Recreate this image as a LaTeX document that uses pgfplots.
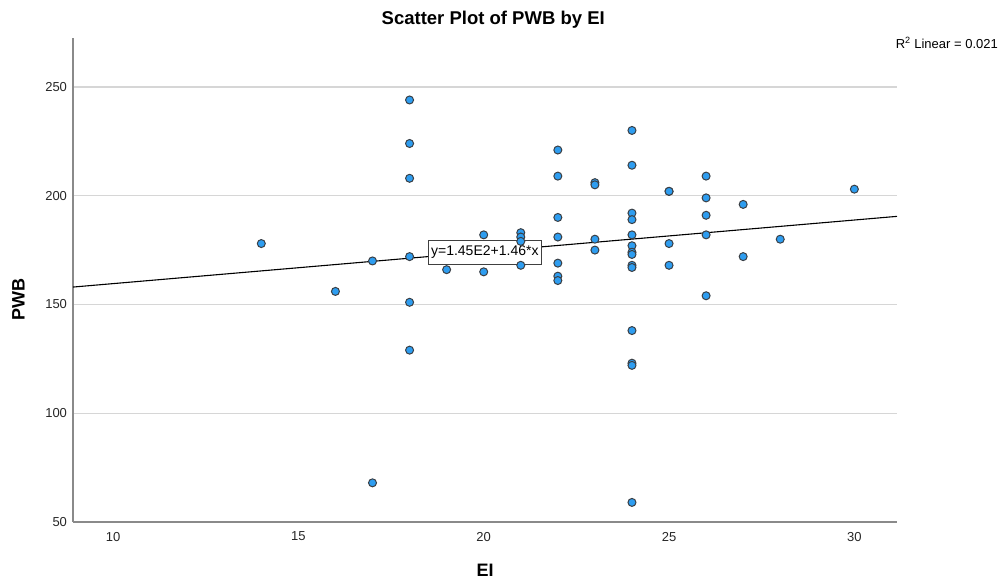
\documentclass[border=0pt]{standalone}
\usepackage{fontspec}
\setmainfont{Liberation Sans}
\usepackage{pgfplots}
\pgfplotsset{compat=1.18}
\definecolor{dotfill}{HTML}{2E9DF0}
\definecolor{dotedge}{HTML}{3A3F45}
\definecolor{gridgray}{HTML}{D6D6D6}
\definecolor{axgray}{HTML}{8A8A8A}

\begin{document}
\begin{tikzpicture}
\begin{axis}[
  scale only axis,
  width=824pt, height=484pt,
  xmin=8.92, xmax=31.15,
  ymin=50, ymax=272.5,
  axis lines*=left,
  axis line style={axgray, line width=1.2pt},
  xtick={10,15,20,25,30},
  ytick={50,100,150,200,250},
  major tick length=0pt,
  ymajorgrids,
  major grid style={gridgray, line width=1.4pt},
  tick label style={font=\fontsize{13}{15}\selectfont, text=black!85},
  /pgf/number format/assume math mode=true,
  xticklabel style={yshift=-6.5pt},
  yticklabel style={xshift=-2.5pt},
  clip=false,
]
% regression line y = 145 + 1.46x
\addplot[black, line width=1.1pt] coordinates {(8.92,158.0) (31.15,190.5)};

\addplot[only marks, mark=*, mark size=4pt,
  mark options={fill=dotfill, draw=dotedge, line width=1pt}] table {
14 178
16 156
17 170
17 68
18 244
18 224
18 208
18 172
18 151
18 129
19 166
20 182
20 165
21 183
21 181
21 179
21 168
22 221
22 209
22 190
22 181
22 169
22 163
22 161
23 206
23 205
23 180
23 175
24 230
24 214
24 192
24 189
24 182
24 177
24 174
24 173
24 168
24 167
24 138
24 123
24 122
24 59
25 202
25 202
25 178
25 168
26 209
26 199
26 191
26 182
26 154
27 196
27 172
28 180
30 203
};

\node[draw=black!75, fill=white, line width=0.8pt, inner xsep=2.5pt, inner ysep=5.5pt,
  font=\fontsize{14}{16}\selectfont] at (axis cs:20.03,173.9) {y=1.45E2+1.46*x};

\node[font=\bfseries\fontsize{18.5}{20}\selectfont] at (rel axis cs:0.510,1.037) {Scatter Plot of PWB by EI};
\node[font=\bfseries\fontsize{18}{20}\selectfont] at (rel axis cs:0.5,-0.099) {EI};
\node[font=\bfseries\fontsize{18}{20}\selectfont, rotate=90] at (rel axis cs:-0.0661,0.459) {PWB};
\node[anchor=east, font=\fontsize{13}{15}\selectfont, inner sep=0pt] at (rel axis cs:1.1226,0.99) {R\textsuperscript{2} Linear = 0.021};

\path[draw=none] (rel axis cs:-0.0886,-0.1157) rectangle (rel axis cs:1.1238,1.0785);
\end{axis}
\end{tikzpicture}
\end{document}
